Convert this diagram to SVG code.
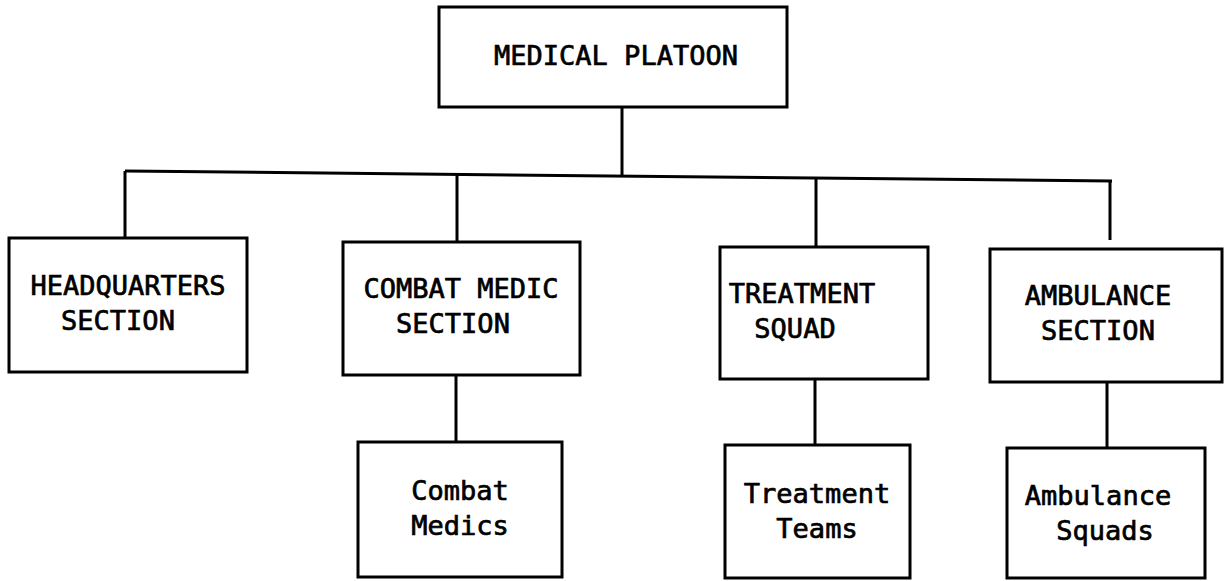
<svg xmlns="http://www.w3.org/2000/svg" width="1225" height="581" viewBox="0 0 1225 581">
<style>
.box{fill:#fff;stroke:#000;stroke-width:3}
.ln{stroke:#000;stroke-width:3;fill:none}
text{font-family:"DejaVu Sans Mono","Liberation Mono",monospace;font-size:27px;font-weight:normal;fill:#000;stroke:#000;stroke-width:0.7;text-anchor:middle}
</style>
<rect width="1225" height="581" fill="#fff"/>
<g id="connectors">
<line class="ln" x1="622" y1="107" x2="622" y2="175"/>
<line class="ln" x1="125" y1="171" x2="1112" y2="181"/>
<line class="ln" x1="125" y1="171" x2="125" y2="238"/>
<line class="ln" x1="457" y1="174" x2="457" y2="242"/>
<line class="ln" x1="816" y1="178" x2="816" y2="247"/>
<line class="ln" x1="1110" y1="181" x2="1110" y2="240"/>
<line class="ln" x1="456" y1="375" x2="456" y2="442"/>
<line class="ln" x1="815" y1="379" x2="815" y2="445"/>
<line class="ln" x1="1107" y1="382" x2="1107" y2="448"/>
</g>
<g id="medical-platoon">
<rect class="box" x="439" y="7" width="348" height="100"/>
<text x="616" y="65">MEDICAL PLATOON</text>
</g>
<g id="hq-section">
<rect class="box" x="9" y="238" width="238" height="134"/>
<text x="128" y="295">HEADQUARTERS</text>
<text x="118" y="330">SECTION</text>
</g>
<g id="combat-medic-section">
<rect class="box" x="343" y="242" width="237" height="133"/>
<text x="461" y="298">COMBAT MEDIC</text>
<text x="453" y="333">SECTION</text>
</g>
<g id="treatment-squad">
<rect class="box" x="720" y="247" width="208" height="132"/>
<text x="802" y="303">TREATMENT</text>
<text x="795" y="338">SQUAD</text>
</g>
<g id="ambulance-section">
<rect class="box" x="990" y="249" width="232" height="133"/>
<text x="1098" y="305">AMBULANCE</text>
<text x="1098" y="340">SECTION</text>
</g>
<g id="combat-medics">
<rect class="box" x="358" y="442" width="204" height="135"/>
<text x="460" y="500">Combat</text>
<text x="460" y="535">Medics</text>
</g>
<g id="treatment-teams">
<rect class="box" x="725" y="445" width="185" height="133"/>
<text x="817" y="503">Treatment</text>
<text x="817" y="538">Teams</text>
</g>
<g id="ambulance-squads">
<rect class="box" x="1007" y="448" width="198" height="130"/>
<text x="1098" y="505">Ambulance</text>
<text x="1105" y="540">Squads</text>
</g>
</svg>
